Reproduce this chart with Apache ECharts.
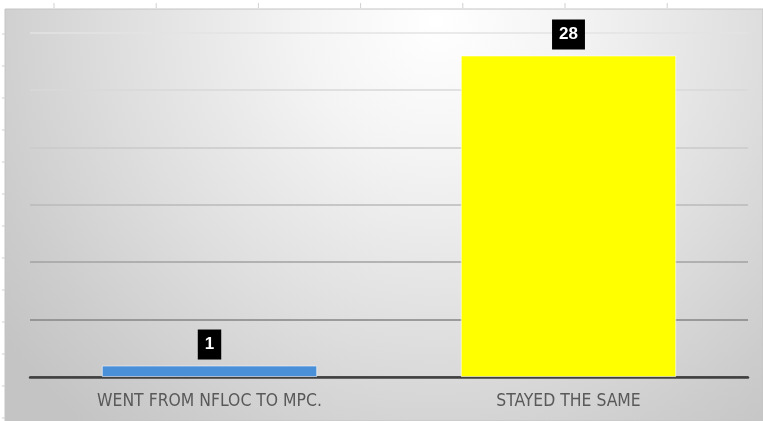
<!DOCTYPE html>
<html lang="en" style="height: 100%">
<head>
    <meta charset="utf-8">
    <script type="text/javascript" src="https://cdn.jsdelivr.net/npm/echarts@6/dist/echarts.min.js"></script>
</head>
<body style="height: 100%; margin: 0; background: #fff">
    <div id="chart" style="height: 421px; width: 763px"></div>
    <script type="text/javascript">
        var categories = ['WENT FROM NFLOC TO MPC.', 'STAYED THE SAME'];
        var counts = [1, 28];
        var barColors = ['#4a90d9', '#ffff00'];

        // faint ruler ticks around the pasted chart
        var deco = [];
        for (var x = 54; x < 763; x += 102.2) {
            deco.push({ type: 'line', shape: { x1: x, y1: 3, x2: x, y2: 8 }, style: { stroke: '#d0d0d0', lineWidth: 1 } });
        }
        for (var y = 34; y < 421; y += 32) {
            deco.push({ type: 'line', shape: { x1: 2, y1: y, x2: 5, y2: y }, style: { stroke: '#d0d0d0', lineWidth: 1 } });
        }
        deco.push({
            type: 'rect', z: -10,
            shape: { x: 5, y: 9, width: 758, height: 412 },
            style: {
                fill: new echarts.graphic.RadialGradient(0.57, 0.03, 1.3, [
                    { offset: 0, color: '#ffffff' },
                    { offset: 0.25, color: '#f4f4f4' },
                    { offset: 0.6, color: '#dedede' },
                    { offset: 0.85, color: '#cdcdcd' },
                    { offset: 1, color: '#c4c4c4' }
                ]),
                stroke: '#c4c4c4', lineWidth: 1
            }
        });

        var chart = echarts.init(document.getElementById('chart'));
        chart.setOption({
            animation: false,
            graphic: deco,
            grid: { left: 30, right: 15, top: 32.5, bottom: 44 },
            xAxis: {
                type: 'category',
                data: categories,
                axisTick: { show: false },
                axisLine: { lineStyle: { color: '#404040', width: 2.5 } },
                axisLabel: {
                    color: '#595959',
                    fontSize: 17.4,
                    fontFamily: "'Liberation Sans Narrow', 'DejaVu Sans Condensed', sans-serif",
                    margin: 16
                }
            },
            yAxis: {
                type: 'value',
                min: 0,
                max: 30,
                interval: 5,
                axisLabel: { show: false },
                axisLine: { show: false },
                axisTick: { show: false },
                splitLine: {
                    lineStyle: {
                        width: 1.5,
                        color: ['#444444', '#858585', '#a2a2a2', '#bababa', '#cacaca', '#d8d8d8', '#e3e3e3']
                    }
                }
            },
            series: [{
                type: 'bar',
                barWidth: '60%',
                data: counts.map(function (v, i) {
                    return { value: v, itemStyle: { color: barColors[i] } };
                }),
                itemStyle: { borderColor: 'rgba(255,255,255,0.55)', borderWidth: 1 },
                label: {
                    show: true,
                    position: 'top',
                    distance: 6,
                    color: '#ffffff',
                    backgroundColor: '#000000',
                    fontFamily: "'Liberation Sans', Arial, sans-serif",
                    fontWeight: 'bold',
                    fontSize: 17,
                    lineHeight: 18,
                    padding: [6, 7]
                }
            }]
        });
    </script>
</body>
</html>
